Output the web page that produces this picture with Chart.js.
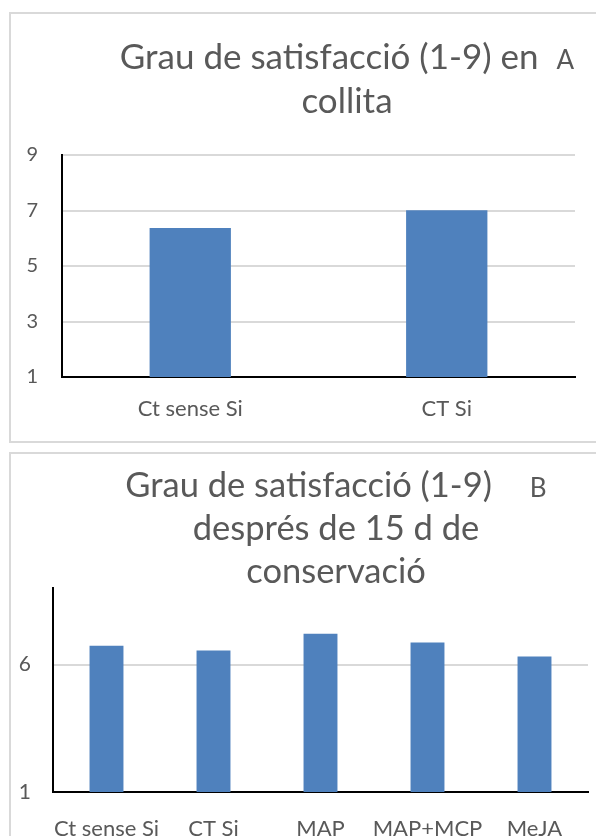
<!DOCTYPE html>
<html>
<head>
<meta charset="utf-8">
<script src="https://cdn.jsdelivr.net/npm/chart.js@4/dist/chart.umd.min.js"></script>
<style>
  html, body { margin: 0; padding: 0; background: #fff; }
  body { position: relative; width: 596px; height: 836px; overflow: hidden; }
  .frame { position: absolute; left: 9px; width: 700px; border: 2px solid #d9d9d9; box-sizing: border-box; }
  #frameA { top: 12px; height: 431px; }
  #frameB { top: 452px; height: 500px; }
  .holder { position: absolute; left: 0; width: 596px; }
  #holderA { top: 0; height: 445px; }
  #holderB { top: 445px; height: 391px; }
</style>
</head>
<body>
<div class="frame" id="frameA"></div>
<div class="frame" id="frameB"></div>
<div class="holder" id="holderA"><canvas id="chartA" width="596" height="445"></canvas></div>
<div class="holder" id="holderB"><canvas id="chartB" width="596" height="391"></canvas></div>
<script>
// Panel A: satisfaction at harvest
const categoriesA = ['Ct sense Si', 'CT Si'];
const valuesA = [6.37, 7.01];
const ticksA = [1, 3, 5, 7, 9];
const titleA = [['Grau de satisfacció (1-9) en', 'A'], ['collita']];

// Panel B: satisfaction after 15 days of storage
const categoriesB = ['Ct sense Si', 'CT Si', 'MAP', 'MAP+MCP', 'MeJA'];
const valuesB = [6.74, 6.55, 7.21, 6.86, 6.31];
const ticksB = [1, 6];
const titleB = [['Grau de satisfacció (1-9)', 'B'], ['després de 15 d de'], ['conservació']];

const FONT = 'Lato, "Open Sans", sans-serif';
const TEXT = '#595959';
const BAR = '#4f81bd';
const GRID = '#d9d9d9';

// Draws a multi-line title; the first line carries a smaller panel letter.
const titlePlugin = {
  id: 'panelTitle',
  afterDraw(chart, args, opts) {
    const ctx = chart.ctx;
    ctx.save();
    ctx.fillStyle = TEXT;
    ctx.textBaseline = 'alphabetic';
    ctx.textAlign = 'left';
    opts.lines.forEach((parts, i) => {
      const big = `${opts.size}px ${FONT}`;
      const small = `${opts.letterSize}px ${FONT}`;
      ctx.font = big;
      const w1 = ctx.measureText(parts[0]).width;
      let w2 = 0;
      if (parts[1]) { ctx.font = small; w2 = ctx.measureText(parts[1]).width + opts.gap; }
      const x = opts.cx - (w1 + w2) / 2;
      const y = opts.y0 + i * opts.lineGap;
      ctx.font = big;
      ctx.fillText(parts[0], x, y);
      if (parts[1]) {
        ctx.font = small;
        ctx.fillText(parts[1], x + w1 + opts.gap, y);
      }
    });
    ctx.restore();
  }
};

function makeChart(id, cats, vals, ticks, min, max, geom, title) {
  return new Chart(document.getElementById(id), {
    type: 'bar',
    data: {
      labels: cats,
      datasets: [{
        data: vals,
        backgroundColor: BAR,
        borderWidth: 0,
        barPercentage: 0.317,
        categoryPercentage: 1
      }]
    },
    options: {
      responsive: false,
      animation: false,
      events: [],
      layout: { padding: { top: geom.top, right: geom.right, left: 0, bottom: 0 } },
      plugins: {
        legend: { display: false },
        tooltip: { enabled: false },
        title: { display: false },
        panelTitle: title
      },
      scales: {
        x: {
          grid: { display: false, drawTicks: false },
          border: { display: true, color: '#000', width: 2 },
          ticks: { color: TEXT, font: { family: FONT, size: geom.xFont }, padding: geom.xPad, maxRotation: 0, autoSkip: false },
          afterFit: s => { s.height = geom.xHeight; }
        },
        y: {
          min: min, max: max,
          afterBuildTicks: s => { s.ticks = ticks.map(v => ({ value: v })); },
          grid: { color: GRID, lineWidth: 2, drawTicks: false },
          border: { display: true, color: '#000', width: 2 },
          ticks: { color: TEXT, font: { family: FONT, size: geom.yFont }, padding: geom.yPad },
          afterFit: s => { s.width = geom.yWidth; }
        }
      }
    },
    plugins: [titlePlugin]
  });
}

makeChart('chartA', categoriesA, valuesA, ticksA, 1, 9,
  { top: 155, right: 21, xHeight: 68, yWidth: 62, xFont: 22, yFont: 20, xPad: 19, yPad: 24 },
  { lines: titleA, size: 35, letterSize: 26, gap: 18, cx: 347, y0: 69, lineGap: 44 });

makeChart('chartB', categoriesB, valuesB, ticksB, 1, 9,
  { top: 143, right: 8, xHeight: 44, yWidth: 53, xFont: 22, yFont: 21, xPad: 24, yPad: 22 },
  { lines: titleB, size: 34.5, letterSize: 26, gap: 38, cx: 336, y0: 52, lineGap: 43 });
</script>
</body>
</html>
